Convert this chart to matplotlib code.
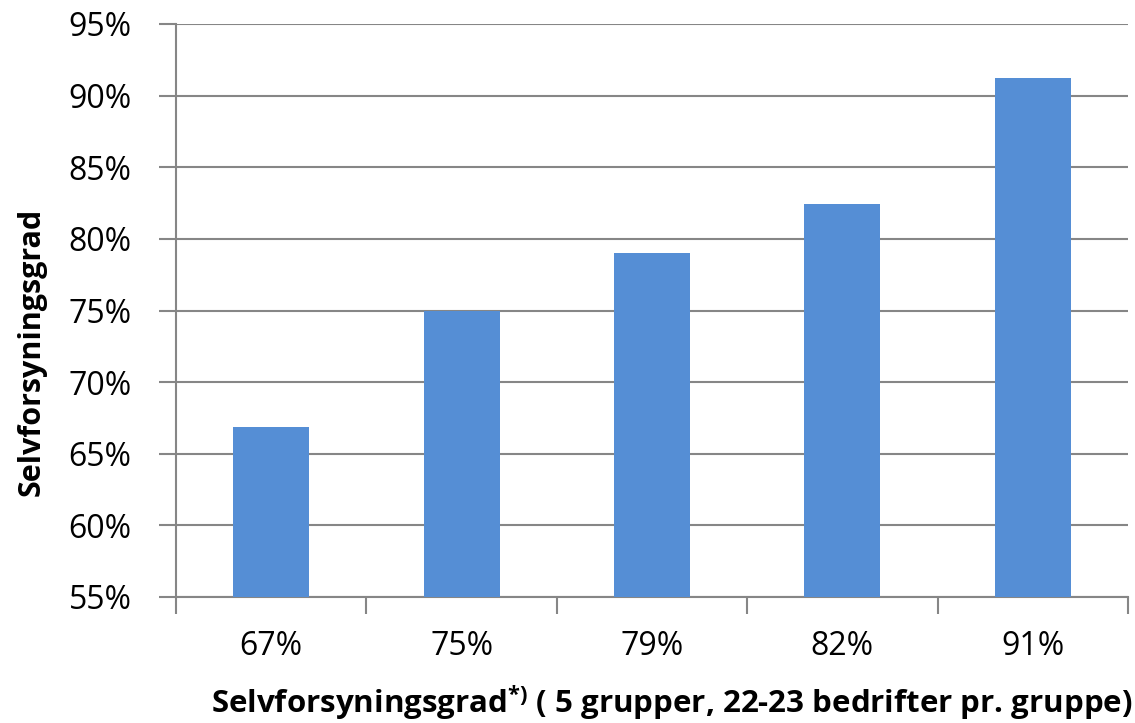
import matplotlib
matplotlib.use("Agg")
import matplotlib.pyplot as plt
import numpy as np

# data
categories = ["67%", "75%", "79%", "82%", "91%"]
values = [66.9, 75.0, 79.0, 82.4, 91.2]
yticks = [55, 60, 65, 70, 75, 80, 85, 90, 95]

plt.rcParams['font.family'] = ['Open Sans', 'DejaVu Sans']
plt.rcParams['mathtext.fontset'] = 'custom'
plt.rcParams['mathtext.rm'] = 'Open Sans'
plt.rcParams['mathtext.bf'] = 'Open Sans:bold'

grid_col = '#868686'

fig = plt.figure(figsize=(11.35, 7.23), dpi=100)
ax = fig.add_axes([176 / 1135, 1 - 597 / 723, 952 / 1135, 573 / 723])

x = np.arange(len(categories))
ax.bar(x, values, width=0.4, color='#558ED5', zorder=3)

ax.set_xlim(-0.5, len(categories) - 0.5)
ax.set_ylim(55, 95)
ax.set_yticks(yticks)
ax.set_yticklabels([f"{v}%" for v in yticks])
ax.yaxis.grid(True, color=grid_col, linewidth=1.5, zorder=0)

# ticks on category boundaries
ax.set_xticks(np.arange(-0.5, len(categories), 1.0))
ax.set_xticklabels([])
ax.set_xticks(x, minor=True)
ax.set_xticklabels(categories, minor=True)
ax.tick_params(axis='x', which='major', length=12, width=1.5, color=grid_col, direction='out')
ax.tick_params(axis='x', which='minor', length=0, pad=24, labelsize=23)
ax.tick_params(axis='y', length=12, width=1.5, color=grid_col, labelsize=23, pad=20)

for s in ['top', 'right']:
    ax.spines[s].set_visible(False)
for s in ['left', 'bottom']:
    ax.spines[s].set_color(grid_col)
    ax.spines[s].set_linewidth(1.5)

fig.text(1133 / 1135, 1 - 703 / 723,
         r"Selvforsyningsgrad$^{\mathbf{*)}}$ ( 5 grupper, 22-23 bedrifter pr. gruppe)",
         ha='right', va='center', fontsize=22.5, fontweight='bold')
fig.text(32 / 1135, 1 - 352 / 723, "Selvforsyningsgrad", rotation=90,
         ha='center', va='center', fontsize=22, fontweight='bold')

fig.savefig("out.png", dpi=100)
